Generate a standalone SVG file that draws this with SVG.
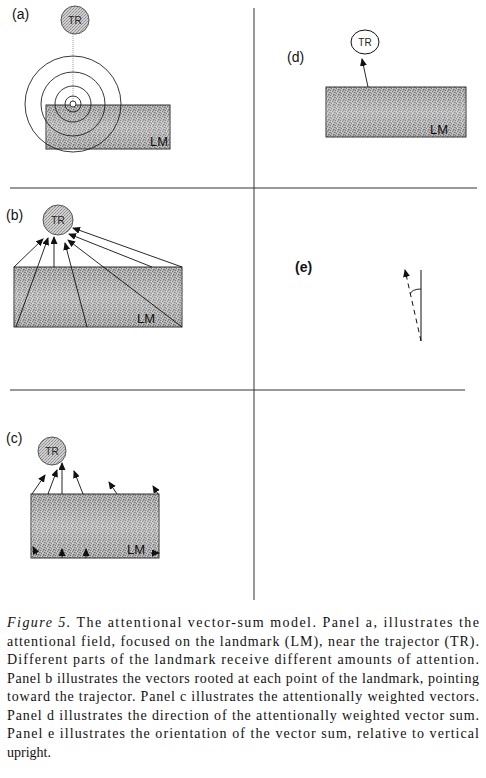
<svg xmlns="http://www.w3.org/2000/svg" width="486" height="778" viewBox="0 0 486 778">
<defs>
<pattern id="stip" width="5" height="5" patternUnits="userSpaceOnUse">
<rect width="5" height="5" fill="#b4b4b4"/>
<rect x="0" y="0" width="1" height="1" fill="#6e6e6e"/>
<rect x="2" y="1" width="1" height="1" fill="#6e6e6e"/>
<rect x="4" y="2" width="1" height="1" fill="#6e6e6e"/>
<rect x="1" y="3" width="1" height="1" fill="#6e6e6e"/>
<rect x="3" y="4" width="1" height="1" fill="#6e6e6e"/>
<rect x="3" y="0" width="1" height="1" fill="#8a8a8a"/>
<rect x="0" y="2" width="1" height="1" fill="#8a8a8a"/>
<rect x="4" y="4" width="1" height="1" fill="#8a8a8a"/>
<rect x="2" y="3" width="1" height="1" fill="#d4d4d4"/>
<rect x="1" y="1" width="1" height="1" fill="#d4d4d4"/>
</pattern>
<linearGradient id="sheen" x1="0" y1="0" x2="0" y2="1">
<stop offset="0" stop-color="#fff" stop-opacity="0"/>
<stop offset="0.5" stop-color="#fff" stop-opacity="0.25"/>
<stop offset="1" stop-color="#fff" stop-opacity="0"/>
</linearGradient>
<pattern id="trfill" width="3" height="3" patternUnits="userSpaceOnUse">
<rect width="3" height="3" fill="#cfcfcf"/>
<rect width="1" height="1" fill="#8e8e8e"/>
<rect x="1" y="2" width="1" height="1" fill="#8e8e8e"/>
<rect x="2" y="1" width="1" height="1" fill="#a0a0a0"/>
</pattern>
<marker id="ah" markerUnits="userSpaceOnUse" markerWidth="8" markerHeight="7" refX="7" refY="3.5" orient="auto">
<path d="M0,0 L8,3.5 L0,7 z" fill="#111"/>
</marker>
</defs>
<style>
.lbl{font-family:"Liberation Sans",Arial,sans-serif;font-size:14px;fill:#111}
.tr{font-family:"Liberation Sans",Arial,sans-serif;font-size:10px;fill:#222;text-anchor:middle}
.lm{font-family:"Liberation Sans",Arial,sans-serif;font-size:13px;fill:#111}
.lmrect{fill:url(#stip);stroke:#333;stroke-width:1}
.sheen{fill:url(#sheen)}
.trc{fill:url(#trfill);stroke:#555;stroke-width:1}
.sep{stroke:#333;stroke-width:1;fill:none}
.vec{stroke:#111;stroke-width:0.9;fill:none;marker-end:url(#ah)}
.ring{stroke:#222;stroke-width:0.9;fill:none}
.cap{font-family:"Liberation Serif","Times New Roman",serif;font-size:14px;fill:#111}
</style>

<g id="separators">
<line class="sep" x1="254" y1="8" x2="254" y2="600"/>
<line class="sep" x1="10" y1="188" x2="477" y2="188"/>
<line class="sep" x1="10" y1="390" x2="465" y2="390"/>
</g>

<!-- Panel a -->
<g id="panel-a">
<text class="lbl" x="12" y="19">(a)</text>
<g id="a-lm">
<rect class="lmrect" x="46" y="105" width="124" height="44"/>
<rect class="sheen" x="46" y="105" width="124" height="44"/>
<text class="lm" x="150" y="146">LM</text>
</g>
<g id="a-tr">
<circle class="trc" cx="75" cy="20" r="14"/>
<text class="tr" x="75" y="24">TR</text>
</g>
<g id="a-field">
<line x1="73" y1="34" x2="73" y2="101" stroke="#999" stroke-width="1" stroke-dasharray="1,1"/>
<circle class="ring" cx="73" cy="104" r="48"/>
<circle class="ring" cx="73" cy="104" r="32"/>
<circle class="ring" cx="73" cy="104" r="18"/>
<circle class="ring" cx="73" cy="104" r="8"/>
<circle cx="73" cy="104" r="3" fill="#fff" stroke="#222" stroke-width="0.9"/>
</g>
</g>

<!-- Panel d -->
<g id="panel-d">
<text class="lbl" x="287" y="62">(d)</text>
<g id="d-lm">
<rect class="lmrect" x="326" y="87" width="140" height="50"/>
<rect class="sheen" x="326" y="87" width="140" height="50"/>
<text class="lm" x="430" y="134">LM</text>
</g>
<g id="d-tr">
<ellipse cx="365" cy="42" rx="14" ry="12" fill="#fff" stroke="#111" stroke-width="1"/>
<text class="tr" x="365" y="46">TR</text>
</g>
<g id="d-connectors">
<line class="vec" x1="368" y1="87" x2="362" y2="59"/>
</g>
</g>

<!-- Panel b -->
<g id="panel-b">
<text class="lbl" x="6" y="220">(b)</text>
<g id="b-lm">
<rect class="lmrect" x="14" y="267" width="168" height="60"/>
<rect class="sheen" x="14" y="267" width="168" height="60"/>
<text class="lm" x="137" y="323">LM</text>
</g>
<g id="b-tr">
<circle class="trc" cx="58" cy="220" r="15"/>
<text class="tr" x="58" y="224">TR</text>
</g>
<g id="b-connectors">
<line class="vec" x1="14" y1="267" x2="43" y2="239"/>
<line class="vec" x1="16" y1="327" x2="48" y2="238"/>
<line class="vec" x1="54" y1="267" x2="54" y2="237"/>
<line class="vec" x1="87" y1="327" x2="65" y2="243"/>
<line class="vec" x1="182" y1="327" x2="68" y2="240"/>
<line class="vec" x1="152" y1="267" x2="69" y2="234"/>
<line class="vec" x1="182" y1="267" x2="73" y2="228"/>
</g>
</g>

<!-- Panel e -->
<g id="panel-e">
<text class="lbl" x="295" y="272" font-weight="bold">(e)</text>
<g id="e-connectors">
<line x1="421" y1="270" x2="421" y2="341" stroke="#111" stroke-width="1"/>
<line x1="421" y1="341" x2="405" y2="270" stroke="#111" stroke-width="1" stroke-dasharray="5,4" marker-end="url(#ah)"/>
<path d="M410,294 Q412,289 421,289" fill="none" stroke="#111" stroke-width="0.9"/>
</g>
</g>

<!-- Panel c -->
<g id="panel-c">
<text class="lbl" x="6" y="443">(c)</text>
<g id="c-lm">
<rect class="lmrect" x="31" y="494" width="128" height="64"/>
<rect class="sheen" x="31" y="494" width="128" height="64"/>
<text class="lm" x="127" y="554">LM</text>
</g>
<g id="c-tr">
<circle class="trc" cx="52" cy="451" r="14"/>
<text class="tr" x="52" y="455">TR</text>
</g>
<g id="c-connectors">
<line class="vec" x1="32" y1="494" x2="45" y2="475"/>
<line class="vec" x1="48" y1="494" x2="57" y2="470"/>
<line class="vec" x1="62" y1="494" x2="62" y2="463"/>
<line class="vec" x1="83" y1="494" x2="74" y2="471"/>
<line class="vec" x1="117" y1="494" x2="109" y2="482"/>
<line class="vec" x1="158" y1="494" x2="153" y2="486"/>
<line class="vec" x1="37" y1="555" x2="33" y2="547"/>
<line class="vec" x1="62" y1="558" x2="62" y2="549"/>
<line class="vec" x1="86" y1="558" x2="86" y2="549"/>
<line class="vec" x1="151" y1="553" x2="159" y2="553"/>
</g>
</g>

<!-- Caption -->
<g id="caption">
<text class="cap" x="7" y="627" textLength="472"><tspan font-style="italic">Figure 5.</tspan>  The attentional vector-sum model. Panel a, illustrates the</text>
<text class="cap" x="7" y="645.5" textLength="472">attentional field, focused on the landmark (LM), near the trajector (TR).</text>
<text class="cap" x="7" y="664" textLength="472">Different parts of the landmark receive different amounts of attention.</text>
<text class="cap" x="7" y="682.5" textLength="472">Panel b illustrates the vectors rooted at each point of the landmark, pointing</text>
<text class="cap" x="7" y="701" textLength="472">toward the trajector. Panel c illustrates the attentionally weighted vectors.</text>
<text class="cap" x="7" y="719.5" textLength="472">Panel d illustrates the direction of the attentionally weighted vector sum.</text>
<text class="cap" x="7" y="738" textLength="472">Panel e illustrates the orientation of the vector sum, relative to vertical</text>
<text class="cap" x="7" y="756.5">upright.</text>
</g>
</svg>
